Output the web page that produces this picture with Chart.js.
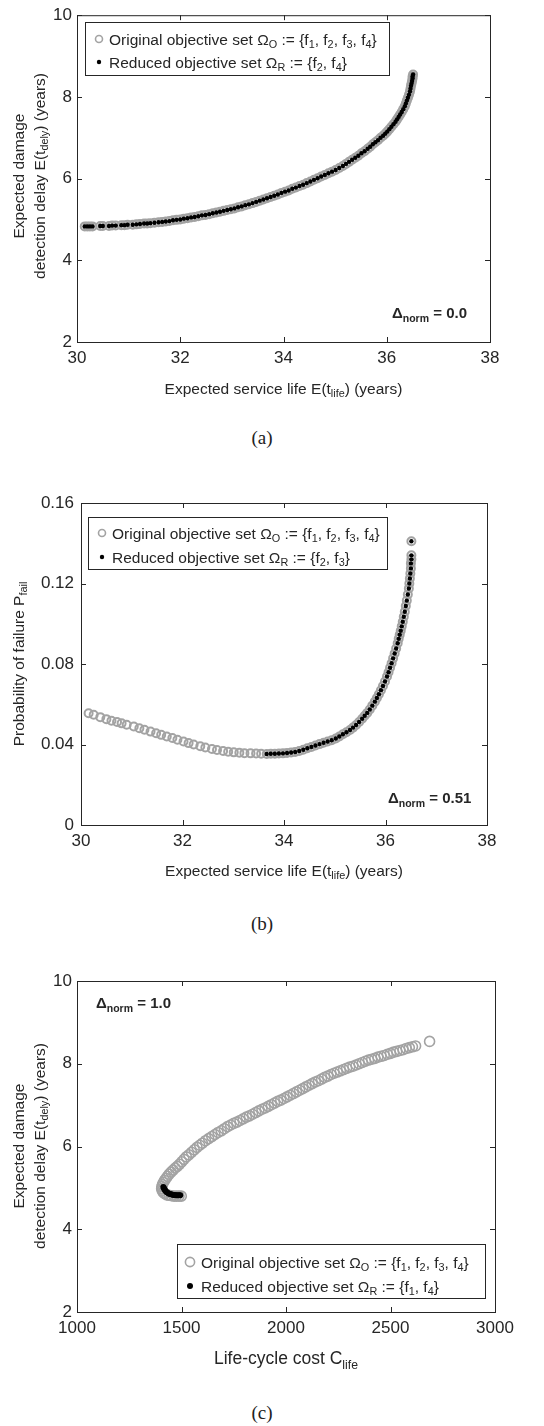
<!DOCTYPE html>
<html>
<head>
<meta charset="utf-8">
<script src="https://cdn.jsdelivr.net/npm/chart.js@4.4.1/dist/chart.umd.min.js"></script>
<style>
body { margin: 0; background: #fff; }
#page { position: relative; width: 544px; height: 1426px; }
canvas { position: absolute; left: 0; }
.cap { position: absolute; left: 222px; width: 80px; text-align: center; font: 19px 'Liberation Serif', serif; color: #222; line-height: 22px; }
</style>
</head>
<body>
<div id="page">
  <canvas id="chartA" width="544" height="420" style="top:0px"></canvas>
  <div class="cap" style="top:427px">(a)</div>
  <canvas id="chartB" width="544" height="420" style="top:460px"></canvas>
  <div class="cap" style="top:913px">(b)</div>
  <canvas id="chartC" width="544" height="460" style="top:930px"></canvas>
  <div class="cap" style="top:1402px">(c)</div>
</div>
<script>
const FONT = "'Liberation Sans', Arial, sans-serif";
const INK = '#262626';
const GRAY = '#a3a3a3';

// (a) service life vs damage detection delay (reduced set = same front)
const aLife = [30.15, 30.20, 30.25, 30.30, 30.45, 30.50, 30.62, 30.68, 30.75, 30.86, 30.92, 30.98, 31.08, 31.15, 31.22,
  31.30, 31.36, 31.42, 31.50, 31.58, 31.65, 31.72, 31.79, 31.86, 31.93, 32.00, 32.07, 32.14, 32.21, 32.28, 32.35,
  32.42, 32.49, 32.56, 32.63, 32.70, 32.77, 32.84, 32.91, 32.98, 33.05, 33.12, 33.19, 33.26, 33.33, 33.40, 33.47,
  33.54, 33.61, 33.68, 33.75, 33.82, 33.89, 33.96, 34.03, 34.10, 34.17, 34.24, 34.31, 34.38, 34.45, 34.52, 34.59,
  34.66, 34.73, 34.80, 34.87, 34.94, 35.01, 35.08, 35.15, 35.21, 35.27, 35.33, 35.39, 35.45, 35.51, 35.57, 35.63,
  35.68, 35.73, 35.78, 35.83, 35.88, 35.93, 35.97, 36.01, 36.05, 36.09, 36.13, 36.17, 36.20, 36.23, 36.26, 36.29,
  36.32, 36.35, 36.37, 36.39, 36.41, 36.43, 36.45, 36.46, 36.47, 36.48, 36.49, 36.50, 36.50, 36.51];
const aDelay = [4.83, 4.83, 4.83, 4.83, 4.84, 4.84, 4.84, 4.85, 4.85, 4.86, 4.86, 4.87, 4.87, 4.88, 4.89,
  4.90, 4.90, 4.91, 4.92, 4.93, 4.94, 4.95, 4.96, 4.98, 4.99, 5.00, 5.02, 5.03, 5.05, 5.06, 5.08,
  5.10, 5.11, 5.13, 5.15, 5.17, 5.19, 5.21, 5.23, 5.25, 5.27, 5.30, 5.32, 5.35, 5.37, 5.40, 5.43,
  5.46, 5.49, 5.52, 5.55, 5.58, 5.61, 5.65, 5.68, 5.71, 5.75, 5.78, 5.82, 5.85, 5.89, 5.93, 5.97,
  6.01, 6.05, 6.09, 6.13, 6.17, 6.21, 6.26, 6.31, 6.36, 6.41, 6.46, 6.51, 6.56, 6.62, 6.67, 6.73,
  6.78, 6.84, 6.89, 6.94, 7.00, 7.05, 7.10, 7.15, 7.21, 7.27, 7.33, 7.39, 7.45, 7.51, 7.57, 7.63,
  7.70, 7.77, 7.84, 7.91, 7.98, 8.05, 8.13, 8.20, 8.27, 8.33, 8.39, 8.45, 8.50, 8.55];
const aXTicks = [30, 32, 34, 36, 38];
const aYTicks = [2, 4, 6, 8, 10];

// (b) service life vs probability of failure
// points only in the original set
const bOnlyLife = [30.15, 30.25, 30.38, 30.50, 30.60, 30.71, 30.80, 30.90, 31.04, 31.15, 31.25, 31.37, 31.48, 31.58,
  31.69, 31.80, 31.90, 32.02, 32.12, 32.22, 32.35, 32.45, 32.58, 32.68, 32.80, 32.90, 33.01, 33.12, 33.22, 33.34,
  33.45, 33.55];
const bOnlyFail = [0.0555, 0.0548, 0.0536, 0.0526, 0.0518, 0.0512, 0.0505, 0.0498, 0.0489, 0.0481, 0.0473, 0.0464, 0.0456, 0.0448,
  0.0440, 0.0432, 0.0424, 0.0415, 0.0407, 0.0400, 0.0391, 0.0385, 0.0378, 0.0373, 0.0368, 0.0364, 0.0361, 0.0359, 0.0357, 0.0356,
  0.0355, 0.0354];
// points shared with the reduced set
const bRedLife = [33.66, 33.74, 33.82, 33.90, 33.98, 34.06, 34.14, 34.22, 34.30, 34.38, 34.46, 34.54, 34.62, 34.70,
  34.78, 34.86, 34.94, 35.02, 35.09, 35.16, 35.23, 35.30, 35.36, 35.42, 35.48, 35.54, 35.59, 35.64, 35.69, 35.74,
  35.79, 35.83, 35.87, 35.91, 35.95, 35.99, 36.03, 36.06, 36.09, 36.12, 36.15, 36.18, 36.21, 36.24, 36.26, 36.28,
  36.30, 36.32, 36.34, 36.36, 36.38, 36.40, 36.42, 36.44, 36.46, 36.47, 36.48, 36.49, 36.50, 36.50, 36.51, 36.51,
  36.51];
const bRedFail = [0.0353, 0.0354, 0.0354, 0.0355, 0.0356, 0.0358, 0.0360, 0.0363, 0.0368, 0.0374, 0.0381, 0.0388, 0.0395, 0.0402,
  0.0409, 0.0415, 0.0421, 0.0430, 0.0440, 0.0451, 0.0461, 0.0472, 0.0484, 0.0497, 0.0512, 0.0528, 0.0543, 0.0557, 0.0574, 0.0593,
  0.0613, 0.0631, 0.0650, 0.0670, 0.0691, 0.0713, 0.0738, 0.0759, 0.0781, 0.0804, 0.0828, 0.0852, 0.0877, 0.0903, 0.0925, 0.0945,
  0.0965, 0.0987, 0.1010, 0.1035, 0.1060, 0.1088, 0.1115, 0.1145, 0.1175, 0.1200, 0.1225, 0.1250, 0.1275, 0.1300, 0.1320, 0.1340,
  0.1410];
const bXTicks = [30, 32, 34, 36, 38];
const bYTicks = [0, 0.04, 0.08, 0.12, 0.16];

// (c) life-cycle cost vs damage detection delay
const cCost = [2687, 2620, 2605, 2590, 2575, 2560, 2545, 2530, 2515, 2500, 2485, 2470, 2455, 2440, 2425, 2410,
  2395, 2380, 2365, 2350, 2335, 2320, 2305, 2290, 2275, 2260, 2245, 2230, 2215, 2200, 2185, 2170, 2155, 2140,
  2125, 2110, 2095, 2080, 2065, 2050, 2035, 2020, 2005, 1990, 1975, 1960, 1945, 1930, 1915, 1900, 1885, 1870,
  1855, 1840, 1825, 1810, 1795, 1780, 1765, 1750, 1735, 1720, 1705, 1690, 1675, 1660, 1645, 1630, 1615, 1600,
  1587, 1574, 1561, 1548, 1535, 1523, 1512, 1501, 1490, 1480, 1470, 1460, 1450, 1441, 1433, 1426, 1419, 1413,
  1409, 1406, 1405, 1408, 1413, 1420, 1430, 1440, 1452, 1464, 1476, 1488, 1499];
const cDelay = [8.54, 8.43, 8.41, 8.39, 8.37, 8.34, 8.32, 8.30, 8.28, 8.25, 8.23, 8.20, 8.18, 8.16, 8.13, 8.11,
  8.09, 8.06, 8.03, 8.00, 7.97, 7.94, 7.92, 7.89, 7.86, 7.83, 7.80, 7.77, 7.74, 7.70, 7.67, 7.63, 7.59, 7.56,
  7.52, 7.48, 7.44, 7.40, 7.36, 7.32, 7.28, 7.24, 7.20, 7.16, 7.12, 7.09, 7.05, 7.01, 6.97, 6.93, 6.90, 6.86,
  6.82, 6.78, 6.74, 6.71, 6.67, 6.63, 6.59, 6.56, 6.52, 6.48, 6.43, 6.38, 6.34, 6.29, 6.24, 6.19, 6.14, 6.08,
  6.03, 5.98, 5.92, 5.86, 5.80, 5.75, 5.69, 5.63, 5.57, 5.52, 5.48, 5.43, 5.38, 5.33, 5.28, 5.23, 5.18, 5.13,
  5.08, 5.03, 4.98, 4.93, 4.89, 4.86, 4.83, 4.82, 4.81, 4.80, 4.80, 4.80, 4.80];
const cRedCost = [1413, 1416, 1419, 1423, 1428, 1434, 1440, 1447, 1454, 1461, 1468, 1475, 1482, 1489, 1494];
const cRedDelay = [5.02, 4.99, 4.96, 4.93, 4.90, 4.88, 4.86, 4.85, 4.84, 4.83, 4.83, 4.82, 4.82, 4.82, 4.82];
const cXTicks = [1000, 1500, 2000, 2500, 3000];
const cYTicks = [2, 4, 6, 8, 10];

function pts(xs, ys) {
  return xs.map((x, i) => ({ x: x, y: ys[i] }));
}

// draw text runs, [text, isSubscript]
function rich(ctx, parts, x, y, size, align, bold) {
  const w8 = bold ? 'bold ' : '';
  const subSize = size * 0.7;
  let w = 0;
  parts.forEach(p => {
    ctx.font = w8 + (p[1] ? subSize : size) + 'px ' + FONT;
    w += ctx.measureText(p[0]).width;
  });
  let cx = align === 'center' ? x - w / 2 : x;
  const base = y + size * 0.36;
  ctx.fillStyle = INK;
  ctx.textAlign = 'left';
  ctx.textBaseline = 'alphabetic';
  parts.forEach(p => {
    ctx.font = w8 + (p[1] ? subSize : size) + 'px ' + FONT;
    ctx.fillText(p[0], cx, p[1] ? base + size * 0.24 : base);
    cx += ctx.measureText(p[0]).width;
  });
}

function vrich(ctx, parts, x, y, size) {
  ctx.save();
  ctx.translate(x, y);
  ctx.rotate(-Math.PI / 2);
  rich(ctx, parts, 0, 0, size, 'center');
  ctx.restore();
}

function legendBox(ctx, L) {
  const [x1, y1, x2, y2] = L.box;
  ctx.save();
  ctx.fillStyle = '#fff';
  ctx.fillRect(x1, y1, x2 - x1, y2 - y1);
  ctx.strokeStyle = INK;
  ctx.lineWidth = 1;
  ctx.strokeRect(x1 + 0.5, y1 + 0.5, x2 - x1, y2 - y1);
  ctx.beginPath();
  ctx.arc(L.mx, L.rows[0], L.ring, 0, Math.PI * 2);
  ctx.strokeStyle = GRAY;
  ctx.lineWidth = L.ringW;
  ctx.stroke();
  ctx.beginPath();
  ctx.arc(L.mx, L.rows[1], L.dot, 0, Math.PI * 2);
  ctx.fillStyle = '#000';
  ctx.fill();
  rich(ctx, L.line1, L.tx, L.rows[0], L.size, 'left');
  rich(ctx, L.line2, L.tx, L.rows[1], L.size, 'left');
  ctx.restore();
}

const frame = {
  id: 'frame',
  afterDraw(chart) {
    const { ctx, chartArea: a, scales } = chart;
    ctx.save();
    ctx.strokeStyle = INK;
    ctx.lineWidth = 1;
    ctx.strokeRect(a.left + 0.5, a.top + 0.5, a.right - a.left, a.bottom - a.top);
    ctx.beginPath();
    scales.x.ticks.forEach(t => {
      const p = Math.round(scales.x.getPixelForValue(t.value)) + 0.5;
      ctx.moveTo(p, a.bottom); ctx.lineTo(p, a.bottom - 5);
      ctx.moveTo(p, a.top); ctx.lineTo(p, a.top + 5);
    });
    scales.y.ticks.forEach(t => {
      const p = Math.round(scales.y.getPixelForValue(t.value)) + 0.5;
      ctx.moveTo(a.left, p); ctx.lineTo(a.left + 5, p);
      ctx.moveTo(a.right, p); ctx.lineTo(a.right - 5, p);
    });
    ctx.stroke();
    ctx.restore();
  }
};

function build(id, o) {
  const cv = document.getElementById(id);
  const W = cv.width, H = cv.height;
  const tickFont = { family: FONT, size: 17 };
  new Chart(cv, {
    type: 'scatter',
    data: {
      datasets: [
        { data: pts(o.redX, o.redY), pointRadius: o.dot, backgroundColor: '#000', borderWidth: 0, order: 1 },
        { data: pts(o.orgX, o.orgY), pointRadius: o.ring, backgroundColor: 'rgba(0,0,0,0)',
          borderColor: GRAY, borderWidth: o.ringW, order: 2 }
      ]
    },
    options: {
      responsive: false,
      animation: false,
      events: [],
      layout: { padding: { top: o.area[1], right: W - o.area[2], left: 0, bottom: 0 } },
      plugins: { legend: { display: false }, tooltip: { enabled: false } },
      scales: {
        x: {
          type: 'linear', min: o.xTicks[0], max: o.xTicks[o.xTicks.length - 1],
          afterBuildTicks: s => { s.ticks = o.xTicks.map(v => ({ value: v })); },
          afterFit: s => { s.height = H - o.area[3]; },
          grid: { display: false, drawTicks: false },
          border: { display: false },
          ticks: { font: tickFont, color: INK, padding: 6, maxRotation: 0, autoSkip: false, callback: v => String(v) }
        },
        y: {
          type: 'linear', min: o.yTicks[0], max: o.yTicks[o.yTicks.length - 1],
          afterBuildTicks: s => { s.ticks = o.yTicks.map(v => ({ value: v })); },
          afterFit: s => { s.width = o.area[0]; },
          grid: { display: false, drawTicks: false },
          border: { display: false },
          ticks: { font: tickFont, color: INK, padding: o.yPad, autoSkip: false, callback: v => String(v) }
        }
      }
    },
    plugins: [frame, { id: 'texts', afterDraw(chart) { o.texts(chart.ctx); } }]
  });
}

const origLine = [['Original objective set \u03A9'], ['O', 1], [' := {f'], ['1', 1], [', f'], ['2', 1], [', f'], ['3', 1], [', f'], ['4', 1], ['}']];
const lifeTitle = [['Expected service life E(t'], ['life', 1], [') (years)']];
const delayTitle1 = [['Expected damage']];
const delayTitle2 = [['detection delay E(t'], ['dely', 1], [') (years)']];

build('chartA', {
  area: [77, 10, 490, 342], yPad: 5,
  orgX: aLife, orgY: aDelay, redX: aLife, redY: aDelay,
  xTicks: aXTicks, yTicks: aYTicks, ring: 4, ringW: 2, dot: 2.2,
  texts(ctx) {
    legendBox(ctx, { box: [85, 22, 389, 75], rows: [39, 62], mx: 99, tx: 109, size: 15.5, ring: 3.5, ringW: 1.6, dot: 2.2,
      line1: origLine,
      line2: [['Reduced objective set \u03A9'], ['R', 1], [' := {f'], ['2', 1], [', f'], ['4', 1], ['}']] });
    rich(ctx, lifeTitle, 283.5, 388, 15.5, 'center');
    vrich(ctx, delayTitle1, 18, 176, 15.5);
    vrich(ctx, delayTitle2, 39, 176, 15.5);
    rich(ctx, [['\u0394'], ['norm', 1], [' = 0.0']], 392, 313, 15, 'left', true);
  }
});

build('chartB', {
  area: [81, 43, 487, 365], yPad: 7,
  orgX: bOnlyLife.concat(bRedLife), orgY: bOnlyFail.concat(bRedFail), redX: bRedLife, redY: bRedFail,
  xTicks: bXTicks, yTicks: bYTicks, ring: 4, ringW: 2, dot: 2.2,
  texts(ctx) {
    legendBox(ctx, { box: [88, 57, 387, 109], rows: [73, 97], mx: 102, tx: 112, size: 15.5, ring: 3.5, ringW: 1.6, dot: 2.2,
      line1: origLine,
      line2: [['Reduced objective set \u03A9'], ['R', 1], [' := {f'], ['2', 1], [', f'], ['3', 1], ['}']] });
    rich(ctx, lifeTitle, 284, 410, 15.5, 'center');
    vrich(ctx, [['Probability of failure P'], ['fail', 1]], 18, 204, 15.5);
    rich(ctx, [['\u0394'], ['norm', 1], [' = 0.51']], 388, 338, 15, 'left', true);
  }
});

build('chartC', {
  area: [77, 51, 495, 382], yPad: 5,
  orgX: cCost, orgY: cDelay, redX: cRedCost, redY: cRedDelay,
  xTicks: cXTicks, yTicks: cYTicks, ring: 5, ringW: 1.6, dot: 3,
  texts(ctx) {
    legendBox(ctx, { box: [177, 314, 485, 368], rows: [332, 356], mx: 190, tx: 201, size: 15.5, ring: 4.6, ringW: 1.6, dot: 3,
      line1: origLine,
      line2: [['Reduced objective set \u03A9'], ['R', 1], [' := {f'], ['1', 1], [', f'], ['4', 1], ['}']] });
    rich(ctx, [['Life-cycle cost C'], ['life', 1]], 286, 428, 17.5, 'center');
    vrich(ctx, delayTitle1, 18, 216, 15.5);
    vrich(ctx, delayTitle2, 39, 216, 15.5);
    rich(ctx, [['\u0394'], ['norm', 1], [' = 1.0']], 96, 73, 15, 'left', true);
  }
});
</script>
</body>
</html>
